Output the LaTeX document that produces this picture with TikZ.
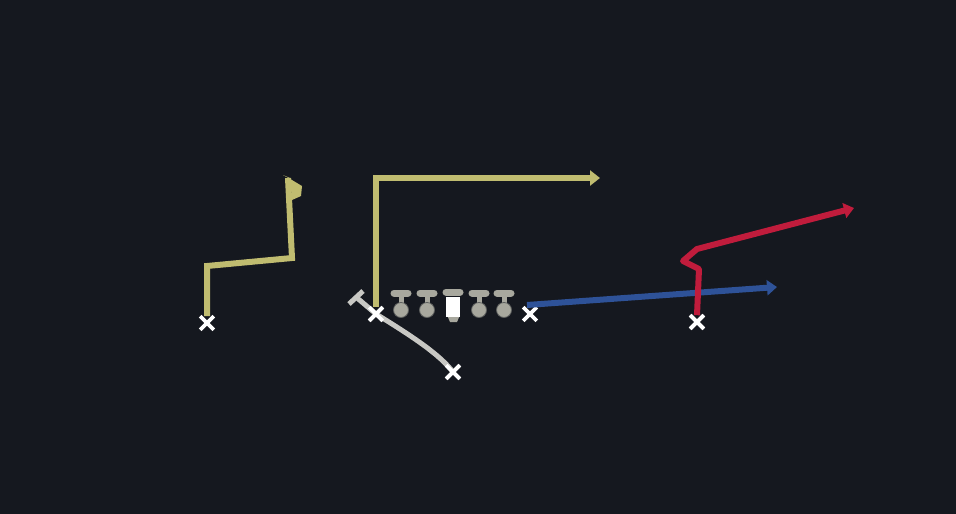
\documentclass[tikz,border=0pt]{standalone}
\usetikzlibrary{shapes.misc,arrows.meta}
\definecolor{bg}{RGB}{21,24,31}
\definecolor{yel}{RGB}{192,188,112}
\definecolor{rte}{RGB}{200,200,196}
\definecolor{lin}{RGB}{168,168,158}
\definecolor{blu}{RGB}{46,82,152}
\definecolor{rd}{RGB}{192,28,60}
\tikzset{
  xmark/.style={cross out,draw=white,line width=3.6pt,minimum size=10pt,inner sep=0pt},
  yroute/.style={draw=yel,line width=6pt,line join=miter},
  tip/.style={-{Triangle[width=15pt,length=10pt]}},
  lbar/.style={draw=lin,line width=7pt,line cap=round},
}
\begin{document}
\begin{tikzpicture}[x=1pt,y=-1pt]
\fill[bg] (0,0) rectangle (956,514);
\useasboundingbox (0,0) rectangle (956,514);
% receivers
\node[xmark] (x1) at (207,323) {};
\node[xmark] (x2) at (376,314) {};
\node[xmark] (x3) at (453,372) {};
\node[xmark] (x4) at (530,314) {};
\node[xmark] (x5) at (697,322) {};
% left yellow route
\coordinate (a1) at (207,266);
\coordinate (a2) at (292,258);
\coordinate (a3) at (288,178);
\draw[yroute] (x1.north) -- (a1) -- (a2) -- (a3);
\fill[yel] (283,175) -- (292,180) -- (302,186) -- (301,196) -- (292,200) -- (290,178) -- cycle;
% center yellow route
\coordinate (b1) at (376,178);
\coordinate (b2) at (600,178);
\draw[yroute,tip] (x2.north) -- (b1) -- (b2);
% back route
\coordinate (c0) at (356,297);
\draw[draw=rte,line width=5pt] (c0) -- (x2.center) .. controls (415,338) and (440,355) .. (x3.center);
\draw[draw=rte,line width=5pt] (349,304) -- (363,291);
\node[xmark] at (x2) {};
\node[xmark] at (x3) {};
% linemen
\foreach \x/\n in {401/l1,427/l2,479/l4,504/l5}{
  \draw[lbar] (\x-7,293) -- (\x+7,293);
  \draw[draw=lin,line width=5pt] (\x,293) -- (\x,306);
  \node[circle,fill=lin,draw=bg!50!lin,line width=0.8pt,minimum size=15pt,inner sep=0pt] (\n) at (\x,310) {};
}
\draw[lbar] (446,292) -- (460,292);
\fill[lin] (447,315) -- (460,315) -- (457,322) -- (450,322) -- cycle;
\fill[white] (446,297) rectangle (460,317);
\node[inner sep=0pt,minimum width=14pt,minimum height=22pt] (l3) at (453,308) {};
% blue route
\coordinate (d1) at (777,287);
\draw[draw=blu,line width=6pt,tip] (527,305) -- (d1);
% red route
\coordinate (e1) at (699,269);
\coordinate (e2) at (683,261);
\coordinate (e3) at (697,249);
\coordinate (e4) at (854,208);
\draw[draw=rd,line width=6pt,tip,line join=round] (x5.north) -- (e1) -- (e2) -- (e3) -- (e4);
\node[xmark] at (x5) {};
\end{tikzpicture}
\end{document}
